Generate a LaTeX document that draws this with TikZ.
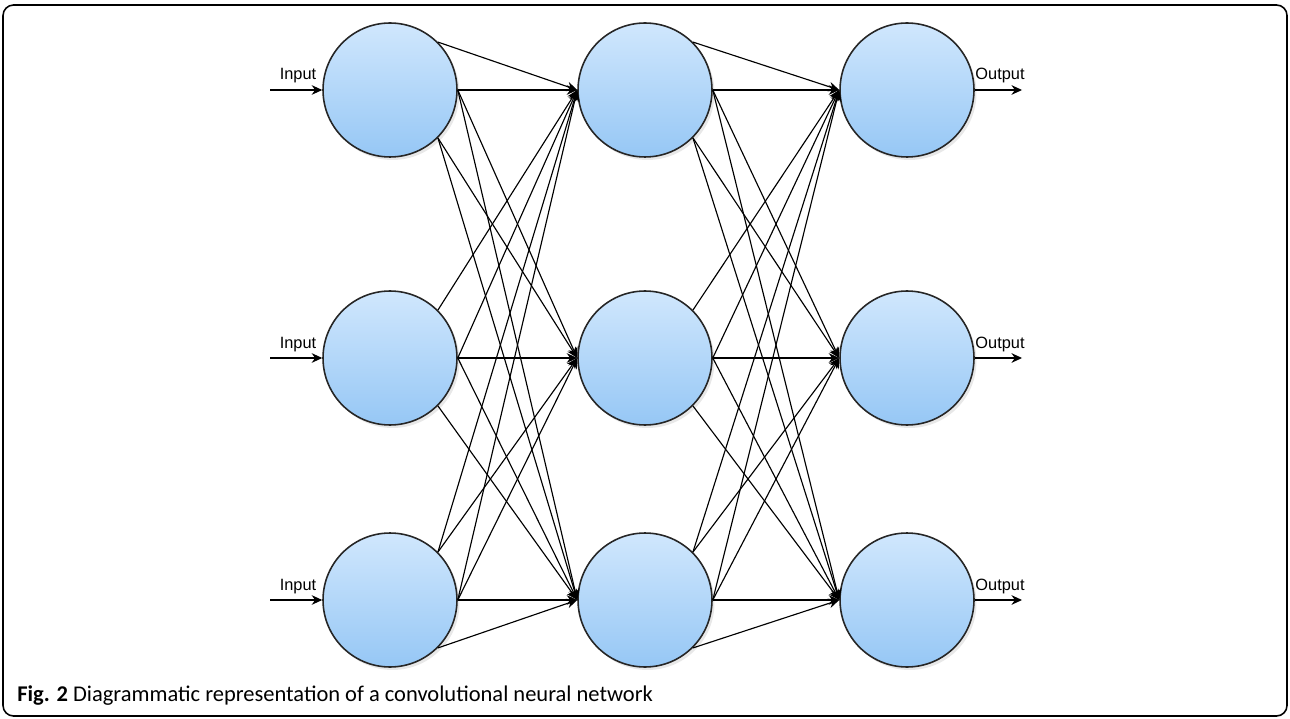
\documentclass[tikz,border=0pt]{standalone}
\usepackage{fontspec}
\setmainfont{Carlito}
\newfontfamily\labelfont{Liberation Sans}
\usetikzlibrary{arrows.meta,shadows}
\definecolor{cellTop}{RGB}{208,231,253}
\definecolor{cellBot}{RGB}{150,199,245}
\tikzset{
  neuron/.style={circle, draw=black!85, line width=0.9pt, minimum size=2.68cm, inner sep=0pt,
    top color=cellTop, bottom color=cellBot,
    drop shadow={opacity=0.18, shadow xshift=0.05cm, shadow yshift=-0.06cm}},
  wire/.style={line width=0.65pt, -{Stealth[length=6pt,width=5.5pt]}},
  io/.style={font=\labelfont\fontsize{9.3}{10}\selectfont, inner sep=0pt, anchor=base}
}
\begin{document}
\begin{tikzpicture} [x=0.02cm,y=-0.02cm]
\useasboundingbox (0,0) rectangle (1290,719);
\draw [line width=0.9pt, rounded corners=6pt] (3,5) rectangle (1287,716);

\node [neuron] (A1) at (390,90) {};
\node [neuron] (A2) at (390,358) {};
\node [neuron] (A3) at (390,600) {};
\node [neuron] (B1) at (645,90) {};
\node [neuron] (B2) at (645,358) {};
\node [neuron] (B3) at (645,600) {};
\node [neuron] (C1) at (907,90) {};
\node [neuron] (C2) at (907,358) {};
\node [neuron] (C3) at (907,600) {};

\coordinate (in1) at (270,90);
\coordinate (in2) at (270,358);
\coordinate (in3) at (270,600);
\coordinate (out1) at (1022,90);
\coordinate (out2) at (1022,358);
\coordinate (out3) at (1022,600);

\draw [wire] (in1) -- (A1.west);
\draw [wire] (in2) -- (A2.west);
\draw [wire] (in3) -- (A3.west);
\node [io] (lin1) at (298,80) {Input};
\node [io] (lin2) at (298,348) {Input};
\node [io] (lin3) at (298,590) {Input};

\draw [wire] (C1.east) -- (out1);
\draw [wire] (C2.east) -- (out2);
\draw [wire] (C3.east) -- (out3);
\node [io] (lout1) at (1000,80) {Output};
\node [io] (lout2) at (1000,348) {Output};
\node [io] (lout3) at (1000,590) {Output};

\draw [wire] (A1.north east) -- (B1.west);
\draw [wire] (A1.east) -- (B1.west);
\draw [wire] (A1.east) -- (B2.west);
\draw [wire] (A1.south east) -- (B2.west);
\draw [wire] (A1.east) -- (B3.west);
\draw [wire] (A1.south east) -- (B3.west);
\draw [wire] (A2.north east) -- (B1.west);
\draw [wire] (A2.east) -- (B1.west);
\draw [wire] (A2.east) -- (B2.west);
\draw [wire] (A2.east) -- (B3.west);
\draw [wire] (A2.south east) -- (B3.west);
\draw [wire] (A3.north east) -- (B1.west);
\draw [wire] (A3.east) -- (B1.west);
\draw [wire] (A3.north east) -- (B2.west);
\draw [wire] (A3.east) -- (B2.west);
\draw [wire] (A3.east) -- (B3.west);
\draw [wire] (A3.south east) -- (B3.west);

\draw [wire] (B1.north east) -- (C1.west);
\draw [wire] (B1.east) -- (C1.west);
\draw [wire] (B1.east) -- (C2.west);
\draw [wire] (B1.south east) -- (C2.west);
\draw [wire] (B1.east) -- (C3.west);
\draw [wire] (B1.south east) -- (C3.west);
\draw [wire] (B2.north east) -- (C1.west);
\draw [wire] (B2.east) -- (C1.west);
\draw [wire] (B2.east) -- (C2.west);
\draw [wire] (B2.east) -- (C3.west);
\draw [wire] (B2.south east) -- (C3.west);
\draw [wire] (B3.north east) -- (C1.west);
\draw [wire] (B3.east) -- (C1.west);
\draw [wire] (B3.north east) -- (C2.west);
\draw [wire] (B3.east) -- (C2.west);
\draw [wire] (B3.east) -- (C3.west);
\draw [wire] (B3.south east) -- (C3.west);

\node [anchor=base west, inner sep=0pt, font=\fontsize{12.8}{14}\selectfont] (caption) at (17,701)
  {\textbf{Fig. 2} Diagrammatic representation of a convolutional neural network};
\end{tikzpicture}
\end{document}
